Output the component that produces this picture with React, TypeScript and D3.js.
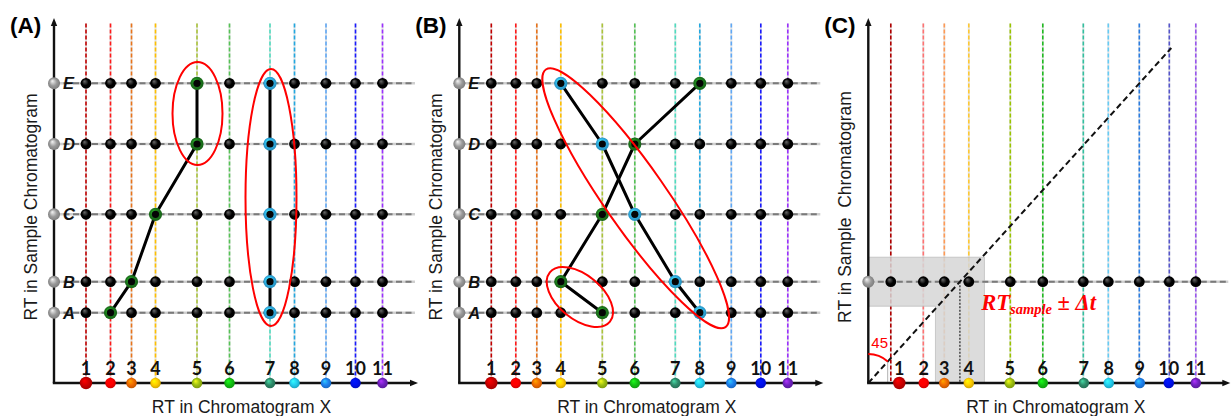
import React from 'react';
import * as d3 from 'd3';

const W = 1231;
const H = 416;

// Retention times of the 11 reference compounds in chromatogram X (arbitrary units)
const compoundLabels = ['1', '2', '3', '4', '5', '6', '7', '8', '9', '10', '11'];
const compoundRT = [3.2, 5.65, 7.75, 10.15, 14.3, 17.55, 21.6, 24.05, 27.2, 30.15, 32.85];
const compoundRTC = [2.25, 5.5, 7.6, 10.05, 14.2, 17.45, 21.5, 24.0, 27.1, 30.1, 32.75];
const markerRTC = [3.1, 5.55, 7.6, 10.05, 14.15, 17.45, 21.55, 24.05, 27.15, 30.05, 32.75];

// Retention times of the sample peaks A–E
const sampleLabels = ['A', 'B', 'C', 'D', 'E'];
const sampleRT = [7.03, 10.13, 16.87, 23.9, 29.97];

// Colours of the compound guides and markers
const guideColorsAB = ['#c00000', '#ff1a1a', '#e8741c', '#ffc000', '#abc43a', '#55c255', '#4fdcc0', '#22a8e0', '#60a8f5', '#1a1aff', '#9b30ff'];
const guideColorsC = ['#b00000', '#ff7373', '#ff9a55', '#ffc933', '#99c400', '#22bb22', '#33c0a0', '#66ccf5', '#2a7de1', '#5555cc', '#9955ee'];
const markerColors = ['#cc0000', '#ff0000', '#f06a00', '#ffcc00', '#9cbf10', '#12c012', '#2e8b6a', '#22ccee', '#1e80ee', '#0010ee', '#7020c0'];

// Candidate matching paths: [compound index, sample index]
const pathA_green: [number, number][] = [[1, 0], [2, 1], [3, 2], [4, 3], [4, 4]];
const pathA_cyan: [number, number][] = [[6, 0], [6, 1], [6, 2], [6, 3], [6, 4]];
const pathB_green: [number, number][] = [[4, 0], [3, 1], [4, 2], [5, 3], [7, 4]];
const pathB_cyan: [number, number][] = [[7, 0], [6, 1], [5, 2], [4, 3], [3, 4]];

// Highlight ellipses: centre (x, y), radii (rx, ry) and rotation in degrees
const ellipsesA = [
  { cx: 14.35, cy: 26.95, rx: 2.5, ry: 5.15, angle: 0 },
  { cx: 21.7, cy: 18.55, rx: 2.55, ry: 12.85, angle: 0 },
];
const ellipsesB = [
  { cx: 17.64, cy: 18.47, rx: 15.7, ry: 3.07, angle: 55.1 },
  { cx: 12.06, cy: 8.6, rx: 3.89, ry: 2.2, angle: 39.4 },
];

// Panel C: retention-time window around a sample peak
const windowRow = 1; // sample B
const deltaT = 2.45;
const diagonalEnd = [30.3, 33.5];

const AXIS_Y = 383;
const UNIT = 10;

function makeScales(x0: number) {
  const x = d3.scaleLinear().domain([0, 36.5]).range([x0, x0 + 36.5 * UNIT]);
  const y = d3.scaleLinear().domain([0, 36.5]).range([AXIS_Y, AXIS_Y - 36.5 * UNIT]);
  return { x, y };
}

function gradId(c: string) {
  return 'g' + c.replace('#', '');
}

const allBallColors = Array.from(new Set([...markerColors, '#000000', '#9a9a9a', '#1c7a1c', '#2fb0e6']));

function Defs() {
  return (
    <defs>
      {allBallColors.map((c) => {
        const base = d3.color(c)!;
        const hi = c === '#000000' ? '#6a6a6a' : base.brighter(1.3).formatHex();
        const lo = c === '#000000' ? '#000000' : base.darker(0.7).formatHex();
        return (
          <radialGradient key={c} id={gradId(c)} cx="0.5" cy="0.5" r="0.55" fx="0.35" fy="0.3">
            <stop offset="0%" stopColor={hi} />
            <stop offset="55%" stopColor={c} />
            <stop offset="100%" stopColor={lo} />
          </radialGradient>
        );
      })}
    </defs>
  );
}

function Axes({ x, y, xMax }: { x: d3.ScaleLinear<number, number>; y: d3.ScaleLinear<number, number>; xMax: number }) {
  const x0 = x(0);
  const yTop = y(36.5);
  const xEnd = x(xMax);
  return (
    <g>
      <line x1={x0} y1={AXIS_Y} x2={x0} y2={yTop + 6} stroke="#111" strokeWidth={2.4} />
      <path d={`M${x0 - 3.2},${yTop + 8} L${x0},${yTop} L${x0 + 3.2},${yTop + 8} Z`} fill="#111" />
      <line x1={x0 - 1.2} y1={AXIS_Y} x2={xEnd - 6} y2={AXIS_Y} stroke="#111" strokeWidth={2.4} />
      <path d={`M${xEnd - 8},${AXIS_Y - 3.2} L${xEnd},${AXIS_Y} L${xEnd - 8},${AXIS_Y + 3.2} Z`} fill="#111" />
    </g>
  );
}

function Guides({ x, y, rts, colors }: { x: any; y: any; rts: number[]; colors: string[] }) {
  return (
    <g>
      {rts.map((rt, i) => (
        <g key={i}>
          <line x1={x(rt)} x2={x(rt)} y1={y(35.95)} y2={AXIS_Y - 2} stroke="#e4e4e4" strokeWidth={2} />
          <line x1={x(rt)} x2={x(rt)} y1={y(35.95)} y2={AXIS_Y - 2} stroke={colors[i]} strokeWidth={1.6} strokeDasharray="4,2" />
        </g>
      ))}
    </g>
  );
}

function RowLine({ x, y, rt, xMax }: { x: any; y: any; rt: number; xMax: number }) {
  return (
    <g>
      <line x1={x(0)} x2={x(xMax)} y1={y(rt)} y2={y(rt)} stroke="#cfcfcf" strokeWidth={2.6} />
      <line x1={x(0)} x2={x(xMax)} y1={y(rt)} y2={y(rt)} stroke="#7a7a7a" strokeWidth={2} strokeDasharray="6,3.5" />
    </g>
  );
}

function Ball({ cx, cy, r, color }: { cx: number; cy: number; r: number; color: string }) {
  return <circle cx={cx} cy={cy} r={r} fill={`url(#${gradId(color)})`} />;
}

function MatchNode({ cx, cy, ring }: { cx: number; cy: number; ring: string }) {
  return (
    <g>
      <circle cx={cx} cy={cy} r={6.6} fill={`url(#${gradId(ring)})`} />
      <circle cx={cx} cy={cy} r={3.6} fill="#050505" />
    </g>
  );
}

function MarkerAxis({ x, rts, labelRts }: { x: any; rts: number[]; labelRts: number[] }) {
  return (
    <g>
      {rts.map((rt, i) => (
        <g key={i}>
          <Ball cx={x(rt)} cy={AXIS_Y} r={i === 0 ? 6.2 : 5.3} color={markerColors[i]} />
          <text
            x={x(labelRts[i])}
            y={375}
            textAnchor="middle"
            fontFamily="Lato, 'Open Sans', sans-serif"
            fontWeight="bold"
            fontSize={18}
            fill="#111"
          >
            {compoundLabels[i]}
          </text>
        </g>
      ))}
    </g>
  );
}

function Titles({ x, y, label, yTitle }: { x: any; y: any; label: string; yTitle: string }) {
  const x0 = x(0);
  return (
    <g fontFamily="Arial, 'Liberation Sans', sans-serif" fill="#1a1a1a">
      <text x={x(18.75)} y={413} textAnchor="middle" fontSize={17.5}>
        RT in Chromatogram X
      </text>
      <text
        transform={`translate(${x0 - 17},${y(17.6)}) rotate(-90)`}
        textAnchor="middle"
        fontSize={17.5}
        style={{ whiteSpace: 'pre' }}
      >
        {yTitle}
      </text>
      <text x={x0 - 44} y={32.5} fontSize={22.5} fontWeight="bold" fill="#000">
        {label}
      </text>
    </g>
  );
}

function GridPanel({
  x0,
  label,
  green,
  cyan,
  ellipses,
}: {
  x0: number;
  label: string;
  green: [number, number][];
  cyan: [number, number][];
  ellipses: { cx: number; cy: number; rx: number; ry: number; angle: number }[];
}) {
  const { x, y } = makeScales(x0);
  const line = d3
    .line<[number, number]>()
    .x((d) => x(compoundRT[d[0]]))
    .y((d) => y(sampleRT[d[1]]));
  const special = new Set([...green, ...cyan].map((d) => d.join(',')));
  return (
    <g>
      <Guides x={x} y={y} rts={compoundRT} colors={guideColorsAB} />
      {sampleRT.map((rt, j) => (
        <RowLine key={j} x={x} y={y} rt={rt} xMax={36.1} />
      ))}
      <Axes x={x} y={y} xMax={36.4} />
      <path d={line(green)!} fill="none" stroke="#000" strokeWidth={3} strokeLinejoin="round" />
      <path d={line(cyan)!} fill="none" stroke="#000" strokeWidth={3} strokeLinejoin="round" />
      {sampleRT.map((rt, j) =>
        compoundRT.map((cr, i) =>
          special.has(`${i},${j}`) ? null : <Ball key={`${i}-${j}`} cx={x(cr)} cy={y(rt)} r={5.4} color="#000000" />
        )
      )}
      {green.map((d, k) => (
        <MatchNode key={'g' + k} cx={x(compoundRT[d[0]])} cy={y(sampleRT[d[1]])} ring="#1c7a1c" />
      ))}
      {cyan.map((d, k) => (
        <MatchNode key={'c' + k} cx={x(compoundRT[d[0]])} cy={y(sampleRT[d[1]])} ring="#2fb0e6" />
      ))}
      {ellipses.map((e, k) => (
        <ellipse
          key={k}
          cx={0}
          cy={0}
          rx={x(e.rx) - x(0)}
          ry={x(e.ry) - x(0)}
          transform={`translate(${x(e.cx)},${y(e.cy)}) rotate(${e.angle})`}
          fill="none"
          stroke="#ff0000"
          strokeWidth={2}
        />
      ))}
      {sampleRT.map((rt, j) => (
        <g key={j}>
          <Ball cx={x(0)} cy={y(rt)} r={6} color="#9a9a9a" />
          <text
            x={x(0) + 9}
            y={y(rt) + 5.8}
            fontFamily="Arial, 'Liberation Sans', sans-serif"
            fontWeight="bold"
            fontStyle="italic"
            fontSize={16.5}
            fill="#111"
          >
            {sampleLabels[j]}
          </text>
        </g>
      ))}
      <MarkerAxis x={x} rts={compoundRT} labelRts={compoundRT} />
      <Titles x={x} y={y} label={label} yTitle="RT in Sample Chromatogram" />
    </g>
  );
}

function WindowPanel({ x0 }: { x0: number }) {
  const { x, y } = makeScales(x0);
  const rowRT = sampleRT[windowRow];
  const slope = diagonalEnd[1] / diagonalEnd[0];
  const crossX = rowRT / slope;
  const bandRight = crossX + deltaT;
  const arcR = 2.9;
  const ang = Math.atan2(diagonalEnd[1], diagonalEnd[0]);
  const arc = d3
    .arc()
    .innerRadius(x(arcR) - x(0))
    .outerRadius(x(arcR) - x(0))
    .startAngle(0)
    .endAngle(Math.PI / 2 - ang);
  const footX = 1.94;
  // Union of the sample window (horizontal band) and the matching window (vertical band)
  const windowPath = d3.path();
  windowPath.moveTo(x(0), y(rowRT + deltaT));
  windowPath.lineTo(x(bandRight), y(rowRT + deltaT));
  windowPath.lineTo(x(bandRight), AXIS_Y);
  windowPath.lineTo(x(crossX - deltaT), AXIS_Y);
  windowPath.lineTo(x(crossX - deltaT), y(rowRT - deltaT));
  windowPath.lineTo(x(0), y(rowRT - deltaT));
  windowPath.closePath();
  return (
    <g>
      <Guides x={x} y={y} rts={compoundRTC} colors={guideColorsC} />
      <path d={windowPath.toString()} fill="#d6d6d6" fillOpacity={0.85} stroke="#b8b8b8" strokeWidth={0.7} />
      <RowLine x={x} y={y} rt={rowRT} xMax={36.0} />
      <line x1={x(crossX)} x2={x(crossX)} y1={y(rowRT)} y2={AXIS_Y} stroke="#111" strokeWidth={1.1} strokeDasharray="2,1.5" />
      <line x1={x(footX)} x2={x(footX)} y1={y(footX * slope)} y2={AXIS_Y} stroke="#b0b0b0" strokeWidth={1} />
      <line
        x1={x(0)}
        y1={y(0)}
        x2={x(diagonalEnd[0])}
        y2={y(diagonalEnd[1])}
        stroke="#111"
        strokeWidth={2}
        strokeDasharray="6,3.5"
      />
      <Axes x={x} y={y} xMax={36.2} />
      <path d={arc({} as any)!} transform={`translate(${x(0)},${y(0)})`} fill="none" stroke="#ff0000" strokeWidth={2} />
      <text x={x(0) + 3} y={348} fontFamily="Arial, 'Liberation Sans', sans-serif" fontSize={15} fill="#ff0000">
        45
      </text>
      {compoundRTC.map((cr, i) => (
        <Ball key={i} cx={x(cr)} cy={y(rowRT)} r={5.4} color="#000000" />
      ))}
      <Ball cx={x(0)} cy={y(rowRT)} r={6} color="#9a9a9a" />
      <text
        x={x(11.3)}
        y={309.5}
        fontFamily="'Liberation Serif', 'Times New Roman', serif"
        fontWeight="bold"
        fontStyle="italic"
        fontSize={22.5}
        fill="#ff0000"
      >
        RT
        <tspan fontSize={14.5} dy={4}>
          sample
        </tspan>
        <tspan dy={-4} fontStyle="normal">
          {' ± '}
        </tspan>
        <tspan>Δt</tspan>
      </text>
      <MarkerAxis x={x} rts={markerRTC} labelRts={markerRTC} />
      <Titles x={x} y={y} label="(C)" yTitle="RT in Sample  Chromatogram" />
    </g>
  );
}

export default function App() {
  return (
    <svg
      width={W}
      height={H}
      viewBox={`0 0 ${W} ${H}`}
      style={{ position: 'absolute', left: 0, top: 0, background: '#fff' }}
    >
      <Defs />
      <rect width={W} height={H} fill="#fff" />
      <GridPanel x0={54} label="(A)" green={pathA_green} cyan={pathA_cyan} ellipses={ellipsesA} />
      <GridPanel x0={459.3} label="(B)" green={pathB_green} cyan={pathB_cyan} ellipses={ellipsesB} />
      <WindowPanel x0={868.3} />
    </svg>
  );
}
